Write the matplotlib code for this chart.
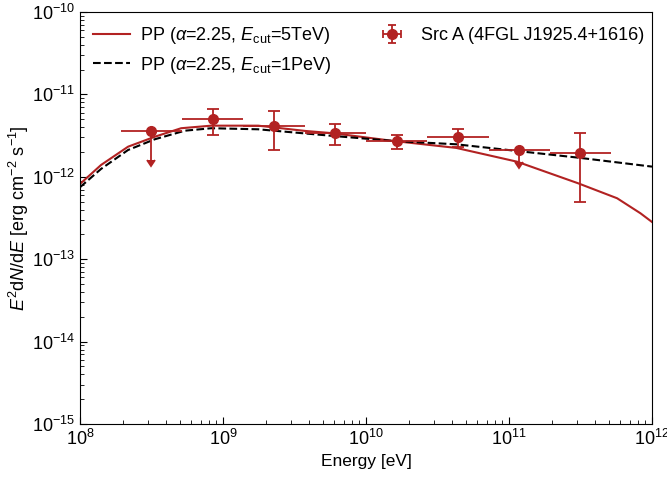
import numpy as np
import matplotlib
matplotlib.use("Agg")
import matplotlib.pyplot as plt

plt.rcParams['font.family'] = ['Liberation Sans', 'DejaVu Sans']
plt.rcParams['mathtext.fontset'] = 'custom'
plt.rcParams['mathtext.rm'] = 'Liberation Sans'
plt.rcParams['mathtext.it'] = 'Liberation Sans:italic'
plt.rcParams['mathtext.bf'] = 'Liberation Sans:bold'

# ---- data ----
energy = [3.16e8, 8.48e8, 2.28e9, 6.11e9, 1.64e10, 4.39e10, 1.18e11, 3.16e11]
energy_lo = [1.93e8, 5.18e8, 1.39e9, 3.73e9, 1.00e10, 2.68e10, 7.20e10, 1.93e11]
energy_hi = [5.18e8, 1.39e9, 3.73e9, 1.00e10, 2.68e10, 7.20e10, 1.93e11, 5.18e11]
flux = [3.63e-12, 4.99e-12, 4.17e-12, 3.40e-12, 2.72e-12, 3.01e-12, 2.11e-12, 1.93e-12]
flux_lo = [1.60e-12, 3.21e-12, 2.11e-12, 2.43e-12, 2.16e-12, 2.30e-12, 1.52e-12, 4.99e-13]
flux_hi = [3.63e-12, 6.71e-12, 6.24e-12, 4.34e-12, 3.21e-12, 3.84e-12, 2.11e-12, 3.37e-12]
upper_limit = [True, False, False, False, False, False, True, False]

# model curves (log10 E [eV], log10 E^2 dN/dE)
pp5tev_logE = [8.0, 8.147, 8.336, 8.525, 8.707, 8.917, 9.246, 9.575, 9.771,
               10.19, 10.631, 11.056, 11.483, 11.756, 11.919, 12.0]
pp5tev_logF = [-12.087, -11.857, -11.635, -11.513, -11.411, -11.380, -11.380,
               -11.444, -11.472, -11.565, -11.650, -11.817, -12.079, -12.261,
               -12.443, -12.549]
pp1pev_logE = [8.0, 8.147, 8.336, 8.523, 8.733, 8.919, 9.246, 9.773, 10.193,
               10.631, 11.056, 11.483, 12.0]
pp1pev_logF = [-12.127, -11.905, -11.675, -11.545, -11.441, -11.411, -11.424,
               -11.505, -11.566, -11.606, -11.687, -11.768, -11.877]

color = '#b22222'

fig = plt.figure(figsize=(6.67, 4.79), dpi=100)
ax = fig.add_axes([0.12, 0.115, 0.8575, 0.86])

ax.plot(10**np.array(pp5tev_logE), 10**np.array(pp5tev_logF), color=color, lw=1.5,
        label=r'PP ($\alpha$=2.25, $E_{\rm cut}$=5TeV)')
ax.plot(10**np.array(pp1pev_logE), 10**np.array(pp1pev_logF), color='black', lw=1.5,
        ls='--', label=r'PP ($\alpha$=2.25, $E_{\rm cut}$=1PeV)')

E = np.array(energy)
F = np.array(flux)
xerr = np.array([E - np.array(energy_lo), np.array(energy_hi) - E])
ul = np.array(upper_limit)
yerr = np.array([F - np.array(flux_lo), np.array(flux_hi) - F])

# horizontal bars (no caps)
ax.errorbar(E, F, xerr=xerr, fmt='none', ecolor=color, elinewidth=1.3, capsize=0)
# measured points
m = ~ul
ax.errorbar(E[m], F[m], yerr=yerr[:, m], fmt='o', color=color, ms=7,
            elinewidth=1.3, capsize=4, capthick=1.3)
# upper limits
ax.errorbar(E[ul], F[ul], yerr=(F - np.array(flux_lo))[ul], uplims=True,
            fmt='o', color=color, ms=7, elinewidth=1.3, capsize=3, capthick=1.3)
# legend proxy
ax.errorbar([np.nan], [np.nan], xerr=[1], yerr=[1], fmt='o', color=color, ms=7,
            elinewidth=1.3, capsize=3, capthick=1.3,
            label='Src A (4FGL J1925.4+1616)')

ax.set_xscale('log')
ax.set_yscale('log')
ax.set_xlim(1e8, 1e12)
ax.set_ylim(1e-15, 1e-10)
ax.tick_params(which='both', direction='in', labelsize=13)
ax.tick_params(which='major', length=5)
ax.tick_params(which='minor', length=3)
ax.set_xlabel('Energy [eV]', fontsize=12.5)
ax.set_ylabel(r'$E^2$d$N$/d$E$ [erg cm$^{-2}$ s$^{-1}$]', fontsize=13, labelpad=1)

h, l = ax.get_legend_handles_labels()
ax.legend(h, l, loc='upper left', bbox_to_anchor=(-0.006, 1.0073), ncol=2,
          frameon=False, fontsize=13, handlelength=2.05, handletextpad=0.55,
          columnspacing=2.35, borderaxespad=0.5, labelspacing=0.46)

fig.savefig('out.png', dpi=100)
